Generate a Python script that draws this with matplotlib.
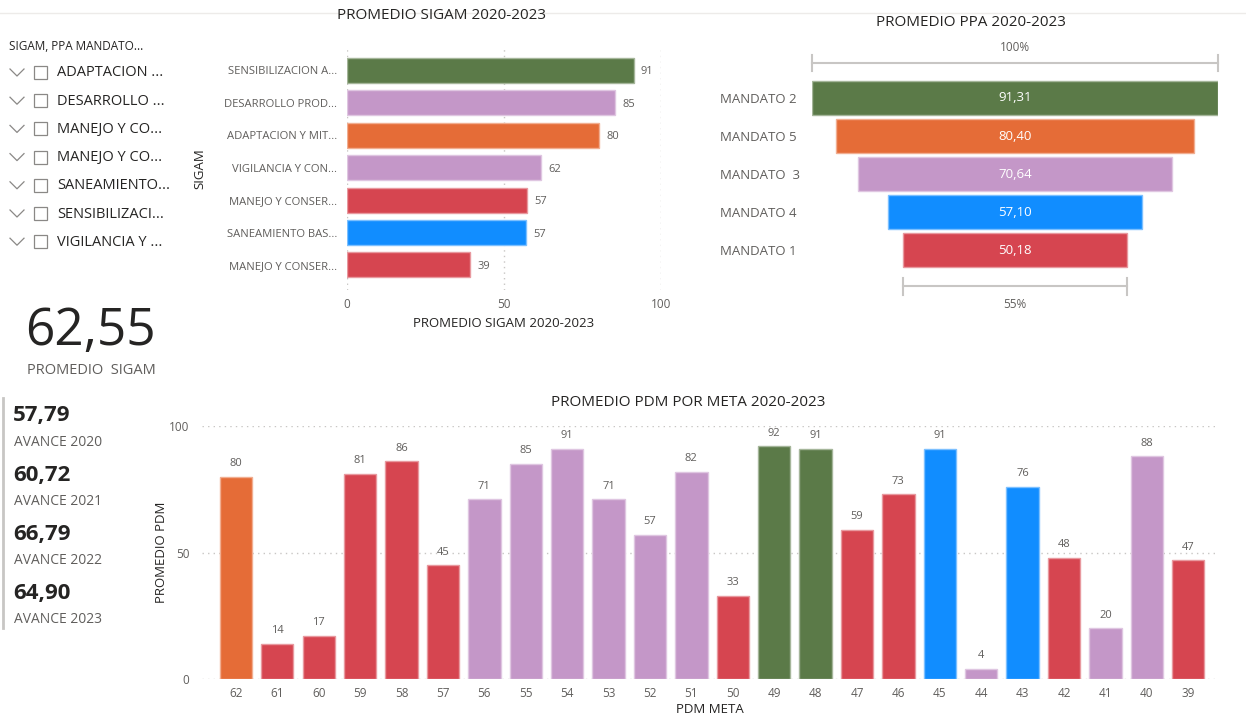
import numpy as np
import matplotlib
matplotlib.use("Agg")
import matplotlib.pyplot as plt
from matplotlib.colors import to_rgb
from matplotlib.patches import Rectangle
from matplotlib.transforms import blended_transform_factory

plt.rcParams["font.family"] = ["Open Sans", "DejaVu Sans"]

GREEN = "#5B7A48"
PURPLE = "#C497C8"
ORANGE = "#E56C37"
RED = "#D64550"
BLUE = "#118DFF"
DARK = "#252423"
GRAY = "#605E5C"
LIGHT = "#C8C6C4"

# ---- data ----
slicer_title = "SIGAM, PPA MANDATO..."
slicer_items = ["ADAPTACION ...", "DESARROLLO ...", "MANEJO Y CO...", "MANEJO Y CO...",
                "SANEAMIENTO...", "SENSIBILIZACI...", "VIGILANCIA Y ..."]

sigam_cats = ["SENSIBILIZACION A...", "DESARROLLO PROD...", "ADAPTACION Y MIT...",
              "VIGILANCIA Y CON...", "MANEJO Y CONSER...", "SANEAMIENTO BAS...",
              "MANEJO Y CONSER..."]
sigam_vals = [91.3, 85.4, 80.4, 61.8, 57.3, 57.1, 39.2]
sigam_colors = [GREEN, PURPLE, ORANGE, PURPLE, RED, BLUE, RED]

ppa_cats = ["MANDATO 2", "MANDATO 5", "MANDATO  3", "MANDATO 4", "MANDATO 1"]
ppa_vals = [91.31, 80.40, 70.64, 57.10, 50.18]
ppa_colors = [GREEN, ORANGE, PURPLE, BLUE, RED]

promedio_sigam = 62.55
avance_years = [2020, 2021, 2022, 2023]
avance_vals = [57.79, 60.72, 66.79, 64.90]

pdm_metas = [62, 61, 60, 59, 58, 57, 56, 55, 54, 53, 52, 51,
             50, 49, 48, 47, 46, 45, 44, 43, 42, 41, 40, 39]
pdm_vals = [80, 14, 17, 81, 86, 45, 71, 85, 91, 71, 57, 82,
            33, 92, 91, 59, 73, 91, 4, 76, 48, 20, 88, 47]
pdm_colors = [ORANGE, RED, RED, RED, RED, RED, PURPLE, PURPLE, PURPLE, PURPLE, PURPLE, PURPLE,
              RED, GREEN, GREEN, RED, RED, BLUE, PURPLE, BLUE, RED, PURPLE, PURPLE, RED]

W, H = 1246, 714


def rect(x0, y0, x1, y1):
    return [x0 / W, 1 - y1 / H, (x1 - x0) / W, (y1 - y0) / H]


def edge(c):
    r = np.array(to_rgb(c))
    return tuple(r + (1 - r) * 0.45)


def comma(v):
    return f"{v:.2f}".replace(".", ",")


fig = plt.figure(figsize=(W / 100, H / 100), dpi=100)

# background canvas in pixel coords
bg = fig.add_axes([0, 0, 1, 1])
bg.set_xlim(0, W)
bg.set_ylim(H, 0)
bg.axis("off")
bg.plot([0, W], [13, 13], color="#EDEBE9", lw=1)

# slicer
bg.text(9, 47, slicer_title, fontsize=8.5, color=DARK, va="center")
for i, item in enumerate(slicer_items):
    y = 73 + i * 28.2
    bg.plot([10, 17, 24], [y - 4, y + 3, y - 4], color="#8A8886", lw=0.9)
    bg.add_patch(Rectangle((34, y - 7), 13, 13, fill=False, ec="#8A8886", lw=0.9))
    bg.text(57, y, item, fontsize=10.5, color=DARK, va="center")

# big card
bg.text(90, 331, comma(promedio_sigam), fontsize=37, color=DARK, ha="center", va="center")
bg.text(91, 371, "PROMEDIO  SIGAM", fontsize=10.5, color=GRAY, ha="center", va="center")

# multi-row card
bg.plot([3, 3], [398, 628], color=LIGHT, lw=2)
for i, (yr, v) in enumerate(zip(avance_years, avance_vals)):
    y = 416 + i * 59.3
    bg.text(13, y, comma(v), fontsize=16, fontweight="bold", color=DARK, va="center")
    bg.text(14, y + 26, f"AVANCE {yr}", fontsize=10, color=GRAY, va="center")

# ---- SIGAM bar chart ----
ax1 = fig.add_axes(rect(347, 48, 661, 290))
pos = np.arange(len(sigam_cats))
ax1.barh(pos, sigam_vals, height=0.77, color=sigam_colors,
         edgecolor=[edge(c) for c in sigam_colors], linewidth=1, zorder=3)
for p, v in zip(pos, sigam_vals):
    ax1.text(v + 2.3, p + 0.05, f"{v:.0f}", fontsize=8, color=GRAY, va="center", ha="left")
ax1.set_xlim(0, 100)
ax1.set_ylim(6.77, -0.68)
ax1.set_yticks(pos)
ax1.set_yticklabels(sigam_cats, fontsize=8.1, color=GRAY)
ax1.set_xticks([0, 50, 100])
ax1.set_xticklabels(["0", "50", "100"], fontsize=8.5, color=GRAY)
ax1.tick_params(length=0, pad=7)
ax1.tick_params(axis="x", pad=6)
for s in ax1.spines.values():
    s.set_visible(False)
ax1.grid(axis="x", color=LIGHT, linestyle=(0, (1, 3)), lw=1, zorder=0)
ax1.set_xlabel("PROMEDIO SIGAM 2020-2023", fontsize=9.5, color=DARK, labelpad=4)
ax1.set_ylabel("SIGAM", fontsize=9.5, color=DARK)
ax1.yaxis.set_label_coords(-0.449, 0.5)
ax1.set_title("PROMEDIO SIGAM 2020-2023", fontsize=11, color=DARK, x=0.3, pad=21)

# ---- PPA funnel ----
ax2 = fig.add_axes(rect(812, 37, 1218, 315))
top = max(ppa_vals)
fpos = np.arange(len(ppa_cats))
ax2.barh(fpos, ppa_vals, left=[-v / 2 for v in ppa_vals], height=0.89, color=ppa_colors,
         edgecolor=[edge(c) for c in ppa_colors], linewidth=1)
for p, v in zip(fpos, ppa_vals):
    ax2.text(0, p, comma(v), fontsize=9.5, color="white", ha="center", va="center")
ax2.set_xlim(-top / 2, top / 2)
ax2.set_ylim(5.7, -1.6)
ax2.axis("off")
tr = blended_transform_factory(fig.transFigure, ax2.transData)
for p, c in zip(fpos, ppa_cats):
    ax2.text(720 / W, p + 0.03, c, transform=tr, fontsize=9.5, color=GRAY, ha="left", va="center")
last = ppa_vals[-1]
for y0, half in [(-0.92, top / 2), (4.95, last / 2)]:
    ax2.plot([-half, half], [y0, y0], color=LIGHT, lw=1.5, clip_on=False)
    for xe in (-half, half):
        ax2.plot([xe, xe], [y0 - 0.22, y0 + 0.22], color=LIGHT, lw=1.5, clip_on=False)
ax2.text(0, -1.32, "100%", fontsize=8.5, color=GRAY, ha="center", va="center")
ax2.text(0, 5.42, f"{last / top * 100:.0f}%", fontsize=8.5, color=GRAY, ha="center", va="center")
fig.text(971 / W, 1 - 22 / H, "PROMEDIO PPA 2020-2023", fontsize=11, color=DARK,
         ha="center", va="center")

# ---- PDM column chart ----
ax3 = fig.add_axes(rect(202, 426, 1218, 679))
x = np.arange(len(pdm_metas))
ax3.bar(x, pdm_vals, width=0.78, color=pdm_colors,
        edgecolor=[edge(c) for c in pdm_colors], linewidth=1, zorder=3)
for xi, v in zip(x, pdm_vals):
    ax3.text(xi, v + 3, f"{v:.0f}", fontsize=8, color=GRAY, ha="center", va="bottom",
             clip_on=False)
ax3.set_xlim(-0.82, 23.72)
ax3.set_ylim(0, 100)
ax3.set_xticks(x)
ax3.set_xticklabels([str(m) for m in pdm_metas], fontsize=8.5, color=GRAY)
ax3.set_yticks([0, 50, 100])
ax3.set_yticklabels(["0", "50", "100"], fontsize=8.5, color=GRAY)
ax3.tick_params(length=0, pad=6)
ax3.tick_params(axis="y", pad=9)
for s in ax3.spines.values():
    s.set_visible(False)
ax3.grid(axis="y", color=LIGHT, linestyle=(0, (1, 3)), lw=1, zorder=0)
ax3.set_xlabel("PDM META", fontsize=9.5, color=DARK, labelpad=2)
ax3.set_ylabel("PROMEDIO PDM", fontsize=9.5, color=DARK)
ax3.yaxis.set_label_coords(-0.0335, 0.5)
fig.text(688 / W, 1 - 403 / H, "PROMEDIO PDM POR META 2020-2023", fontsize=11, color=DARK,
         ha="center", va="center")

fig.savefig("out.png", dpi=100)
